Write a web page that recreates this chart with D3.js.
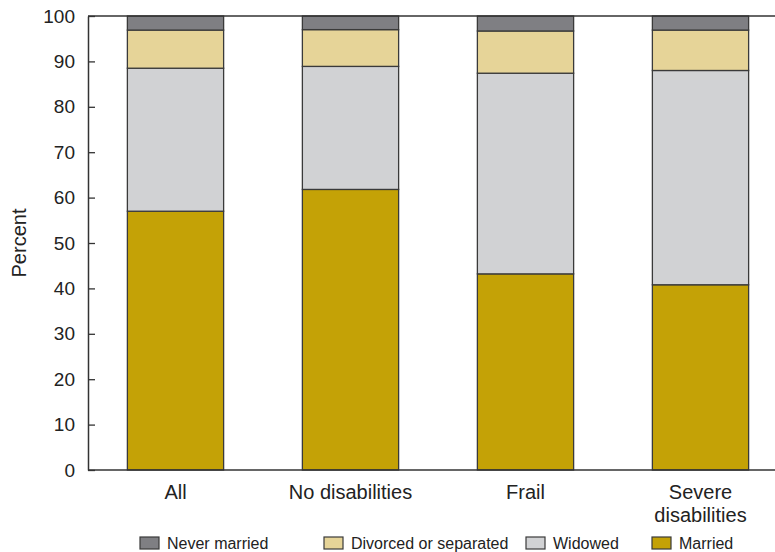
<!DOCTYPE html>
<html>
<head>
<meta charset="utf-8">
<script src="https://cdn.jsdelivr.net/npm/d3@7"></script>
<style>
  html, body { margin: 0; padding: 0; background: #fff; }
  svg { display: block; font-family: "Liberation Sans", Arial, Helvetica, sans-serif; }
</style>
</head>
<body>
<svg id="chart" width="775" height="552"></svg>
<script>
const categories = ["All", "No disabilities", "Frail", "Severe disabilities"];
const categoryLines = [["All"], ["No disabilities"], ["Frail"], ["Severe", "disabilities"]];
const seriesNames = ["Married", "Widowed", "Divorced or separated", "Never married"];
const married  = [57.0, 61.8, 43.2, 40.8];
const widowed  = [31.5, 27.1, 44.2, 47.2];
const divorced = [8.4, 8.1, 9.3, 8.9];
const never    = [3.1, 3.0, 3.3, 3.1];
const yTicks = [0, 10, 20, 30, 40, 50, 60, 70, 80, 90, 100];
const legendOrder = ["Never married", "Divorced or separated", "Widowed", "Married"];
const colors = {
  "Married": "#c4a206",
  "Widowed": "#d1d2d4",
  "Divorced or separated": "#e6d498",
  "Never married": "#7f7f83"
};

const rows = categories.map((c, i) => ({
  cat: c,
  "Married": married[i],
  "Widowed": widowed[i],
  "Divorced or separated": divorced[i],
  "Never married": never[i]
}));

const svg = d3.select("#chart");
const mLeft = 88, mRight = 788, mTop = 16, mBottom = 470;

const x = d3.scaleBand().domain(categories).range([mLeft, mRight]).paddingInner(0.45).paddingOuter(0.225);
const y = d3.scaleLinear().domain([0, 100]).range([mBottom, mTop]);

const stacked = d3.stack().keys(seriesNames)(rows);

svg.append("g").selectAll("g").data(stacked).join("g")
  .attr("fill", d => colors[d.key])
  .selectAll("rect").data(d => d).join("rect")
  .attr("x", d => x(d.data.cat))
  .attr("width", x.bandwidth())
  .attr("y", d => y(d[1]))
  .attr("height", d => y(d[0]) - y(d[1]))
  .attr("stroke", "#3a3a3a")
  .attr("stroke-width", 1.3);

// frame lines
const axisColor = "#333";
svg.append("line").attr("x1", mLeft).attr("x2", 775).attr("y1", mBottom).attr("y2", mBottom)
  .attr("stroke", axisColor).attr("stroke-width", 1.5);
svg.append("line").attr("x1", mLeft).attr("x2", 775).attr("y1", mTop).attr("y2", mTop)
  .attr("stroke", axisColor).attr("stroke-width", 1.5);

// y axis
const yAxis = svg.append("g").attr("transform", `translate(${mLeft},0)`)
  .call(d3.axisLeft(y).tickValues(yTicks).tickSizeInner(-7).tickSizeOuter(0).tickPadding(13));
yAxis.select(".domain").attr("stroke", axisColor).attr("stroke-width", 1.5);
yAxis.selectAll(".tick line").attr("stroke", axisColor).attr("stroke-width", 1.3);
yAxis.selectAll(".tick text").attr("font-size", 19).attr("fill", "#222")
  .attr("font-family", "Liberation Sans, Arial, sans-serif");

// y label
svg.append("text")
  .attr("transform", `translate(26,${(mTop + mBottom) / 2}) rotate(-90)`)
  .attr("text-anchor", "middle")
  .attr("font-size", 20).attr("fill", "#222")
  .text("Percent");

// category labels
const catG = svg.append("g");
categories.forEach((c, i) => {
  const t = catG.append("text")
    .attr("x", x(c) + x.bandwidth() / 2)
    .attr("y", 499)
    .attr("text-anchor", "middle")
    .attr("font-size", 20).attr("fill", "#222");
  categoryLines[i].forEach((ln, j) => {
    t.append("tspan").attr("x", x(c) + x.bandwidth() / 2).attr("dy", j === 0 ? 0 : 23).text(ln);
  });
});

// legend
const legendX = [140, 324, 526, 652];
const lg = svg.append("g");
legendOrder.forEach((name, i) => {
  const g = lg.append("g").attr("transform", `translate(${legendX[i]},537)`);
  g.append("rect").attr("width", 19).attr("height", 12)
    .attr("fill", colors[name]).attr("stroke", "#3a3a3a").attr("stroke-width", 1.2);
  g.append("text").attr("x", 27).attr("y", 12).attr("font-size", 16).attr("fill", "#222").text(name);
});
</script>
</body>
</html>
